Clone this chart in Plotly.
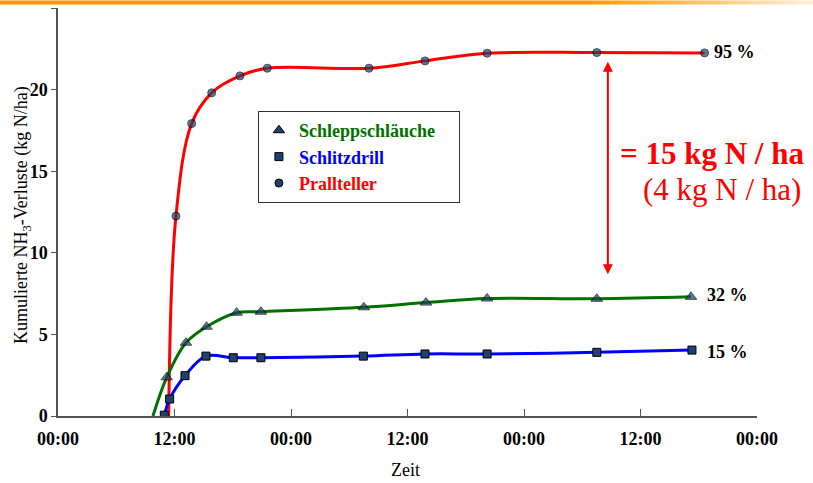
import plotly.graph_objects as go

# ---- data (x in hours from start 00:00) ----
prall_h = [11.4, 12.15, 13.77, 15.83, 18.74, 21.56, 32.03, 37.8, 44.2, 55.5, 66.6]
prall_v = [0.0, 12.25, 17.92, 19.8, 20.84, 21.31, 21.31, 21.76, 22.23, 22.27, 22.25]
prall_marker = [False, True, True, True, True, True, True, True, True, True, True]

schlepp_h = [9.78, 11.2, 13.18, 15.3, 18.4, 20.9, 31.5, 37.9, 44.2, 55.5, 65.2]
schlepp_v = [0.0, 2.37, 4.49, 5.47, 6.33, 6.39, 6.66, 6.95, 7.2, 7.18, 7.3]
schlepp_marker = [False, True, True, True, True, True, True, True, True, True, True]

schlitz_h = [10.95, 11.5, 13.08, 15.24, 18.05, 20.9, 31.45, 37.8, 44.2, 55.5, 65.3]
schlitz_v = [0.05, 1.04, 2.47, 3.67, 3.57, 3.57, 3.67, 3.8, 3.8, 3.9, 4.04]

x_tickvals = [0, 12, 24, 36, 48, 60, 72]
x_ticktext = ["00:00", "12:00", "00:00", "12:00", "00:00", "12:00", "00:00"]
y_tickvals = [0, 5, 10, 15, 20, 25]
y_ticktext = ["0", "5", "10", "15", "20", ""]

x_title = "Zeit"
y_title = "Kumulierte NH<sub>3</sub>-Verluste (kg N/ha)"
end_labels = ["95 %", "32 %", "15 %"]
diff_main = "= 15 kg N / ha"
diff_sub = "(4 kg N / ha)"

FONT = "Liberation Serif"
MCOL = "#1f4170"
RED = "#ff0000"
GREEN = "#007000"
BLUE = "#0000ff"

fig = go.Figure()

def sizes(flags, s):
    return [s if f else 0 for f in flags]

fig.add_trace(go.Scatter(
    x=prall_h, y=prall_v, mode="lines+markers", line=dict(color=RED, width=3, shape="spline"),
    marker=dict(symbol="circle", size=sizes(prall_marker, 8), color=MCOL, line=dict(color="black", width=1)),
    showlegend=False, hoverinfo="skip"))
fig.add_trace(go.Scatter(
    x=schlepp_h, y=schlepp_v, mode="lines+markers", line=dict(color=GREEN, width=3, shape="spline"),
    marker=dict(symbol="triangle-up", size=sizes(schlepp_marker, 10), color=MCOL, line=dict(color="black", width=1)),
    showlegend=False, hoverinfo="skip"))
fig.add_trace(go.Scatter(
    x=schlitz_h, y=schlitz_v, mode="lines+markers", line=dict(color=BLUE, width=3, shape="spline"),
    marker=dict(symbol="square", size=8, color=MCOL, line=dict(color="black", width=1)),
    showlegend=False, hoverinfo="skip"))

# legend-only entries (marker only, coloured text)
for name, col, sym, sz, pad in [("Schleppschläuche", GREEN, "triangle-up", 10, "&nbsp;" * 4),
                                ("Schlitzdrill", BLUE, "square", 8, ""),
                                ("Prallteller", RED, "circle", 8, "")]:
    fig.add_trace(go.Scatter(
        x=[None], y=[None], mode="markers",
        marker=dict(symbol=sym, size=sz, color=MCOL, line=dict(color="black", width=1)),
        name=f"<b><span style='color:{col}'>{name}</span></b>{pad}"))

# end labels
for lab, xv, yv in [(end_labels[0], 67.4, 22.3), (end_labels[1], 66.6, 7.41), (end_labels[2], 66.6, 3.92)]:
    fig.add_annotation(x=xv, y=yv, text=f"<b>{lab}</b>", showarrow=False, xanchor="left", yanchor="middle",
                       font=dict(family=FONT, size=18, color="black"))

# double arrow
fig.add_annotation(x=56.64, y=21.7, ax=56.64, ay=8.6, axref="x", ayref="y", xref="x", yref="y",
                   text="", showarrow=True, arrowside="end+start", arrowhead=2, arrowsize=1,
                   arrowwidth=2, arrowcolor=RED)
fig.add_annotation(x=67.4, y=16.1, text=f"<b>{diff_main}</b>", showarrow=False, xanchor="center",
                   yanchor="middle", font=dict(family=FONT, size=31, color=RED))
fig.add_annotation(x=68.4, y=13.85, text=diff_sub, showarrow=False, xanchor="center",
                   yanchor="middle", font=dict(family=FONT, size=31, color=RED))

# geometry helpers (plot area: x 58..757 px, y 8..416 px)
L, PW, B, PH = 58, 699, 416, 408
def px2x(p):
    return (p - L) / PW
def px2y(p):
    return (B - p) / PH

# axis titles
fig.add_annotation(x=px2x(405), y=px2y(470), xref="paper", yref="paper", text=x_title, showarrow=False,
                   xanchor="center", yanchor="middle", font=dict(family=FONT, size=18))
fig.add_annotation(x=px2x(22), y=px2y(215), xref="paper", yref="paper", text=y_title, showarrow=False,
                   textangle=-90, xanchor="center", yanchor="middle", font=dict(family=FONT, size=18))

# orange header line with fade on the right
y0p, y1p = px2y(4.5), px2y(0.5)
fig.add_shape(type="rect", xref="paper", yref="paper", x0=px2x(0), x1=px2x(590), y0=y0p, y1=y1p,
              fillcolor="rgb(255,153,0)", line=dict(width=0), layer="above")
nseg = 24
for i in range(nseg):
    a = 590 + (813 - 590) * i / nseg
    b = 590 + (813 - 590) * (i + 1) / nseg + 0.5
    t = (i + 0.5) / nseg
    g = int(153 + (240 - 153) * t)
    bl = int(0 + (215 - 0) * t)
    fig.add_shape(type="rect", xref="paper", yref="paper", x0=px2x(a), x1=px2x(b), y0=y0p, y1=y1p,
                  fillcolor=f"rgb(255,{g},{bl})", line=dict(width=0), layer="above")

fig.update_layout(
    width=813, height=483,
    margin=dict(l=58, r=56, t=8, b=67),
    paper_bgcolor="white", plot_bgcolor="white",
    font=dict(family=FONT, size=18, color="black"),
    legend=dict(x=0.286, y=0.7475, xanchor="left", yanchor="top", bordercolor="#333", borderwidth=1,
                bgcolor="white", font=dict(family=FONT, size=18), itemwidth=30),
    xaxis=dict(range=[0, 72], tickvals=x_tickvals, ticktext=x_ticktext, ticks="inside", ticklen=7,
               tickcolor="#555", showline=True, linecolor="#555", linewidth=1.5, showgrid=False,
               zeroline=False, tickfont=dict(family=FONT, size=18, weight="bold"), ticklabelstandoff=6,
               automargin=False),
    yaxis=dict(range=[0, 25], tickvals=y_tickvals, ticktext=y_ticktext, ticks="outside", ticklen=5,
               tickcolor="#555", showline=True, linecolor="#555", linewidth=1.5, showgrid=False,
               zeroline=False, tickfont=dict(family=FONT, size=18, weight="bold"), ticklabelstandoff=0,
               automargin=False),
)

fig.write_html("out.html", config={"displayModeBar": False},
               post_script="document.body.style.margin='0px';")
